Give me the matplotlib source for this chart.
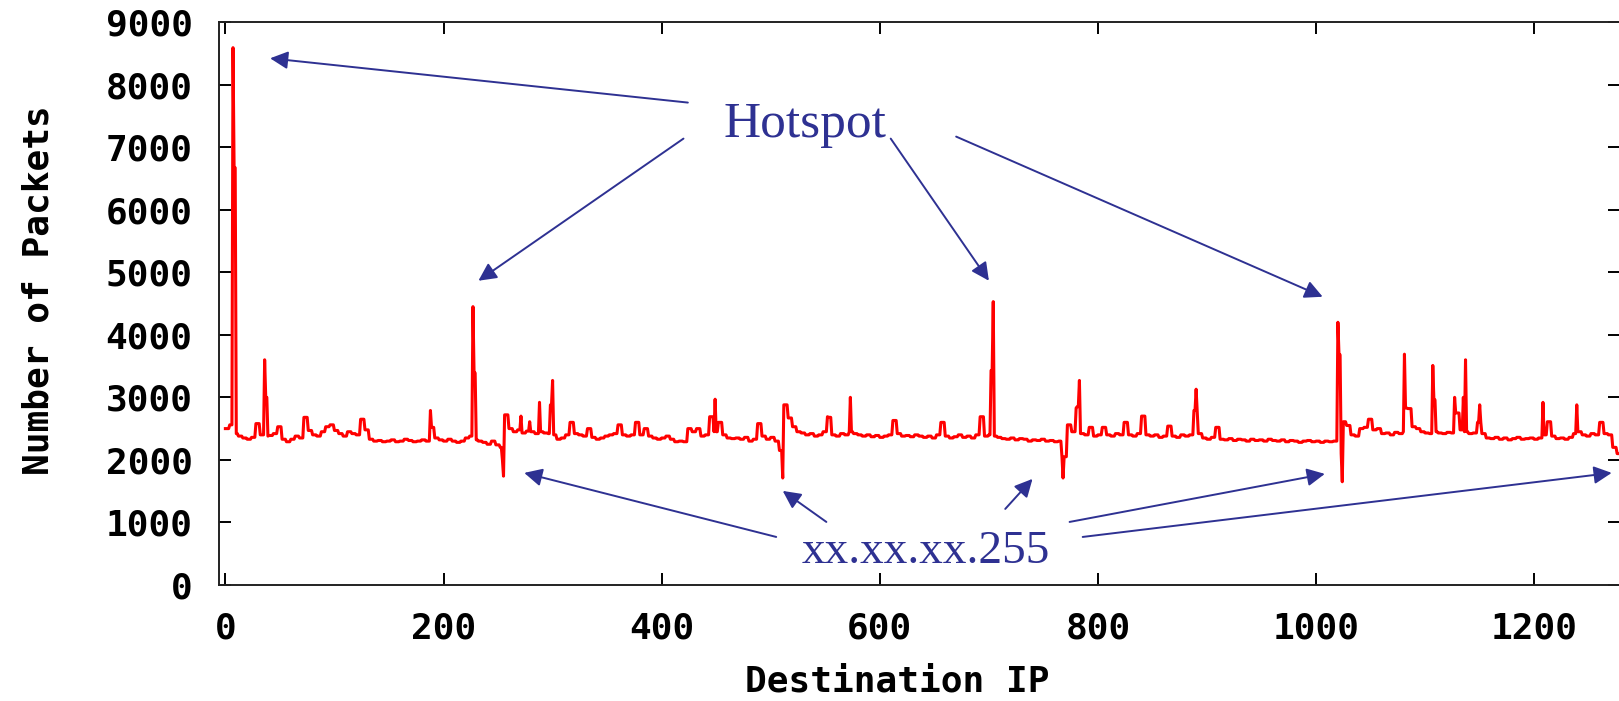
import numpy as np
import matplotlib.pyplot as plt

# baseline level per block of 4 IPs, 16 blocks per line = 64 IPs
base = [
    2500, 2560, 2420, 2380, 2350, 2330, 2360, 2580, 2400, 2380, 2390, 2420, 2530, 2330, 2290, 2330,
    2380, 2350, 2680, 2470, 2400, 2380, 2450, 2530, 2560, 2470, 2420, 2380, 2450, 2420, 2400, 2650,
    2480, 2330, 2300, 2310, 2290, 2300, 2320, 2290, 2300, 2330, 2310, 2290, 2300, 2320, 2300, 2520,
    2350, 2320, 2300, 2330, 2300, 2280, 2300, 2350, 2380, 2320, 2300, 2280, 2250, 2300, 2240, 2200,
    2720, 2500, 2450, 2480, 2430, 2460, 2450, 2420, 2450, 2430, 2420, 2400, 2330, 2350, 2400, 2600,
    2420, 2400, 2380, 2500, 2360, 2330, 2350, 2380, 2400, 2420, 2560, 2400, 2380, 2400, 2600, 2400,
    2500, 2380, 2350, 2330, 2350, 2380, 2330, 2290, 2300, 2290, 2500, 2450, 2500, 2380, 2400, 2690,
    2450, 2600, 2400, 2350, 2340, 2350, 2330, 2360, 2300, 2330, 2580, 2380, 2330, 2360, 2300, 2150,
    2880, 2670, 2530, 2450, 2430, 2400, 2420, 2380, 2400, 2450, 2680, 2400, 2380, 2420, 2400, 2450,
    2420, 2400, 2380, 2400, 2370, 2390, 2360, 2380, 2400, 2630, 2420, 2380, 2390, 2370, 2400, 2380,
    2360, 2380, 2350, 2400, 2600, 2380, 2350, 2370, 2400, 2360, 2380, 2350, 2400, 2690, 2380, 2400,
    2380, 2360, 2340, 2330, 2350, 2320, 2340, 2330, 2300, 2320, 2310, 2330, 2300, 2310, 2290, 2300,
    2050, 2560, 2450, 2830, 2420, 2400, 2520, 2380, 2400, 2520, 2400, 2380, 2420, 2400, 2600, 2400,
    2380, 2420, 2700, 2400, 2380, 2400, 2360, 2380, 2540, 2380, 2360, 2400, 2380, 2400, 2790, 2420,
    2350, 2330, 2360, 2520, 2330, 2320, 2340, 2310, 2330, 2320, 2300, 2330, 2310, 2320, 2300, 2330,
    2310, 2300, 2320, 2290, 2310, 2300, 2280, 2300, 2310, 2290, 2300, 2280, 2300, 2290, 2300, 2450,
    2610, 2550, 2400, 2380, 2500, 2520, 2650, 2480, 2500, 2420, 2430, 2400, 2440, 2420, 2450, 2820,
    2530, 2500, 2450, 2430, 2420, 2450, 2430, 2420, 2440, 2430, 2750, 2480, 2450, 2420, 2430, 2600,
    2420, 2350, 2340, 2360, 2330, 2350, 2320, 2340, 2360, 2330, 2340, 2350, 2330, 2350, 2400, 2610,
    2380, 2340, 2350, 2330, 2360, 2420, 2450, 2400, 2380, 2420, 2400, 2600, 2420, 2400, 2200, 2100,
]

# single-IP peaks and dips (ip, packets)
spike_ip = [7, 8, 9, 36, 37, 38, 188, 227, 228, 229, 254, 255,
            271, 279, 288, 298, 299, 300, 449, 510, 511, 552, 573,
            702, 703, 704, 767, 768, 781, 782, 783, 890,
            1020, 1021, 1022, 1023, 1024, 1081, 1082, 1083, 1107, 1108, 1109,
            1127, 1135, 1137, 1150, 1208, 1239]
spike_val = [8590, 6670, 6670, 3600, 3000, 3000, 2790, 4450, 3390, 3390, 2000, 1740,
             2700, 2610, 2920, 2880, 2880, 3270, 2970, 2150, 1710, 2690, 3000,
             3430, 3430, 4530, 2050, 1710, 2850, 2850, 3270, 3130,
             4200, 3680, 3680, 2100, 1650, 3690, 2830, 2830, 3510, 2960, 2960,
             3000, 3000, 3600, 2880, 2920, 2880]

hotspot_from = [(424, 7712), (420, 7136), (610, 7136), (670, 7168)]
hotspot_to = [(41, 8420), (232, 4864), (700, 4864), (1006, 4608)]
bcast_from = [(505, 768), (551, 1008), (715, 1216), (774, 1008), (786, 768)]
bcast_to = [(274, 1792), (511, 1504), (740, 1696), (1008, 1776), (1271, 1792)]

packets = np.repeat(np.array(base, dtype=float), 4)
packets[spike_ip] = spike_val
ips = np.arange(len(packets))

blue = '#2E3192'
tick_font = dict(family='DejaVu Sans Mono', weight='bold', size=26)

fig = plt.figure(figsize=(16.19, 7.01), dpi=100)
ax = fig.add_axes([0.1353, 0.1655, 0.8653, 0.8031])
ax.plot(ips, packets, color='#ff0000', lw=2.2)

ax.set_xlim(-5.8, 1278.6)
ax.set_ylim(0, 9000)
ax.set_xticks(range(0, 1201, 200))
ax.set_yticks(range(0, 9001, 1000))
ax.tick_params(direction='in', length=8.6, width=1.4, top=True, right=True, pad=19)
for lab in ax.get_xticklabels() + ax.get_yticklabels():
    lab.set_fontproperties(tick_font)
for s in ax.spines.values():
    s.set_linewidth(1.4)
    s.set_color('#222222')

ax.set_xlabel('Destination IP', fontdict=tick_font)
ax.xaxis.set_label_coords(0.484, -0.142)
ax.set_ylabel('Number of Packets', fontdict=tick_font)
ax.yaxis.set_label_coords(-0.117, 0.524)

ax.text(531, 7168, 'Hotspot', family='Liberation Serif', size=37, color=blue,
        ha='center', va='baseline')
ax.text(642, 352, 'xx.xx.xx.255', family='Liberation Serif', size=34, color=blue,
        ha='center', va='baseline')

arrow = dict(arrowstyle='-|>', color=blue, lw=1.4, mutation_scale=27,
             shrinkA=0, shrinkB=0)
for a, b in zip(hotspot_from + bcast_from, hotspot_to + bcast_to):
    ax.annotate('', xy=b, xytext=a, arrowprops=arrow)

fig.savefig('out.png', dpi=100)
